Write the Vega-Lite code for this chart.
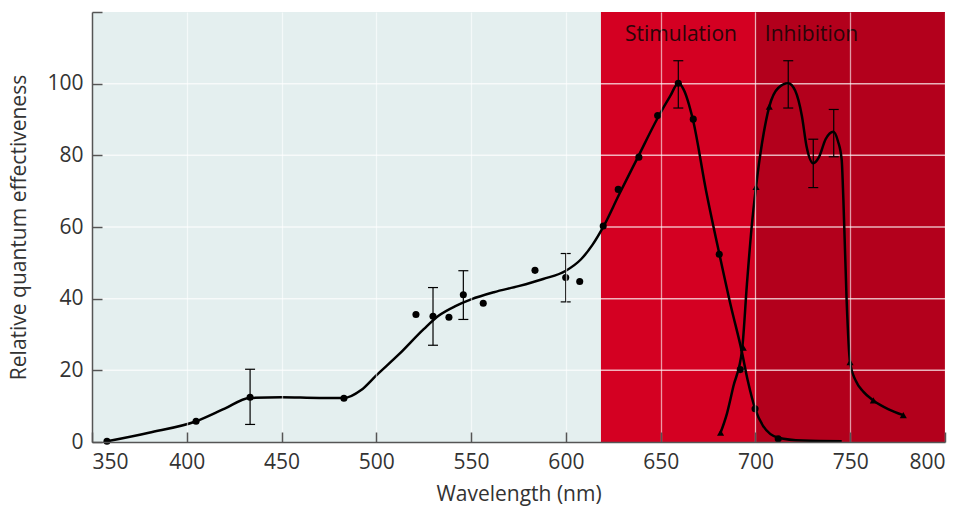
{
  "$schema": "https://vega.github.io/schema/vega-lite/v6.json",
  "width": 853,
  "height": 430,
  "autosize": "none",
  "padding": {"left": 92, "top": 12, "right": 19, "bottom": 64},
  "background": "white",
  "config": {
    "view": {"stroke": null},
    "font": "Open Sans",
    "axis": {
      "labelFont": "Open Sans",
      "labelFontSize": 21,
      "labelColor": "#333333",
      "titleFont": "Open Sans",
      "titleFontSize": 21,
      "titleFontWeight": "normal",
      "titleColor": "#333333",
      "domainColor": "#555555",
      "domainWidth": 1.5,
      "tickColor": "#555555",
      "tickWidth": 1.5
    }
  },
  "datasets": {
    "bands": [
      {"start": 350, "end": 618.5, "region": "visible", "effectiveness": 0, "top": 120},
      {"start": 618.5, "end": 700, "region": "red", "effectiveness": 0, "top": 120},
      {"start": 700, "end": 800, "region": "far-red", "effectiveness": 0, "top": 120}
    ],
    "levels": [
      {"effectiveness": 20},
      {"effectiveness": 40},
      {"effectiveness": 60},
      {"effectiveness": 80},
      {"effectiveness": 100}
    ],
    "curves": [
      {"series": "Stimulation", "wavelength": 358, "effectiveness": 0.2},
      {"series": "Stimulation", "wavelength": 380, "effectiveness": 2.6},
      {"series": "Stimulation", "wavelength": 405, "effectiveness": 5.8},
      {"series": "Stimulation", "wavelength": 420, "effectiveness": 9.3},
      {"series": "Stimulation", "wavelength": 433, "effectiveness": 12.3},
      {"series": "Stimulation", "wavelength": 450, "effectiveness": 12.5},
      {"series": "Stimulation", "wavelength": 470, "effectiveness": 12.3},
      {"series": "Stimulation", "wavelength": 483, "effectiveness": 12.3},
      {"series": "Stimulation", "wavelength": 492, "effectiveness": 14.5},
      {"series": "Stimulation", "wavelength": 500, "effectiveness": 18.6},
      {"series": "Stimulation", "wavelength": 512, "effectiveness": 24.5},
      {"series": "Stimulation", "wavelength": 525, "effectiveness": 31.5},
      {"series": "Stimulation", "wavelength": 533, "effectiveness": 35.3},
      {"series": "Stimulation", "wavelength": 542, "effectiveness": 38},
      {"series": "Stimulation", "wavelength": 550, "effectiveness": 39.8},
      {"series": "Stimulation", "wavelength": 562, "effectiveness": 41.8},
      {"series": "Stimulation", "wavelength": 575, "effectiveness": 43.5},
      {"series": "Stimulation", "wavelength": 588, "effectiveness": 45.5},
      {"series": "Stimulation", "wavelength": 600, "effectiveness": 47.8},
      {"series": "Stimulation", "wavelength": 608, "effectiveness": 51},
      {"series": "Stimulation", "wavelength": 614, "effectiveness": 55},
      {"series": "Stimulation", "wavelength": 620, "effectiveness": 60.3},
      {"series": "Stimulation", "wavelength": 628, "effectiveness": 69},
      {"series": "Stimulation", "wavelength": 638, "effectiveness": 79.5},
      {"series": "Stimulation", "wavelength": 648, "effectiveness": 90},
      {"series": "Stimulation", "wavelength": 655, "effectiveness": 96.5},
      {"series": "Stimulation", "wavelength": 659.3, "effectiveness": 100.1},
      {"series": "Stimulation", "wavelength": 662, "effectiveness": 98.5},
      {"series": "Stimulation", "wavelength": 667, "effectiveness": 90},
      {"series": "Stimulation", "wavelength": 674, "effectiveness": 70},
      {"series": "Stimulation", "wavelength": 681, "effectiveness": 52.4},
      {"series": "Stimulation", "wavelength": 687, "effectiveness": 38},
      {"series": "Stimulation", "wavelength": 692.7, "effectiveness": 25.5},
      {"series": "Stimulation", "wavelength": 696, "effectiveness": 17},
      {"series": "Stimulation", "wavelength": 699.8, "effectiveness": 9.3},
      {"series": "Stimulation", "wavelength": 704, "effectiveness": 4.5},
      {"series": "Stimulation", "wavelength": 712, "effectiveness": 1.2},
      {"series": "Stimulation", "wavelength": 725, "effectiveness": 0.4},
      {"series": "Stimulation", "wavelength": 745.5, "effectiveness": 0.2},
      {"series": "Inhibition", "wavelength": 681.6, "effectiveness": 2.6},
      {"series": "Inhibition", "wavelength": 685, "effectiveness": 8},
      {"series": "Inhibition", "wavelength": 688.3, "effectiveness": 15.4},
      {"series": "Inhibition", "wavelength": 693, "effectiveness": 26},
      {"series": "Inhibition", "wavelength": 695.5, "effectiveness": 44},
      {"series": "Inhibition", "wavelength": 698, "effectiveness": 60},
      {"series": "Inhibition", "wavelength": 700.3, "effectiveness": 71.2},
      {"series": "Inhibition", "wavelength": 703.5, "effectiveness": 83.5},
      {"series": "Inhibition", "wavelength": 707.3, "effectiveness": 93.6},
      {"series": "Inhibition", "wavelength": 712, "effectiveness": 98.8},
      {"series": "Inhibition", "wavelength": 717.3, "effectiveness": 100.1},
      {"series": "Inhibition", "wavelength": 721, "effectiveness": 98},
      {"series": "Inhibition", "wavelength": 724.5, "effectiveness": 91},
      {"series": "Inhibition", "wavelength": 727, "effectiveness": 82.4},
      {"series": "Inhibition", "wavelength": 730.5, "effectiveness": 77.8},
      {"series": "Inhibition", "wavelength": 733.5, "effectiveness": 79.5},
      {"series": "Inhibition", "wavelength": 737, "effectiveness": 84.5},
      {"series": "Inhibition", "wavelength": 741.1, "effectiveness": 86.6},
      {"series": "Inhibition", "wavelength": 743.5, "effectiveness": 84},
      {"series": "Inhibition", "wavelength": 745.5, "effectiveness": 78.7},
      {"series": "Inhibition", "wavelength": 746.4, "effectiveness": 67.5},
      {"series": "Inhibition", "wavelength": 748.1, "effectiveness": 39.6},
      {"series": "Inhibition", "wavelength": 749.9, "effectiveness": 22.3},
      {"series": "Inhibition", "wavelength": 753, "effectiveness": 17},
      {"series": "Inhibition", "wavelength": 757, "effectiveness": 14},
      {"series": "Inhibition", "wavelength": 762.2, "effectiveness": 11.6},
      {"series": "Inhibition", "wavelength": 770, "effectiveness": 9.2},
      {"series": "Inhibition", "wavelength": 778, "effectiveness": 7.5}
    ],
    "points": [
      {"series": "Stimulation", "wavelength": 357.9, "effectiveness": 0.2},
      {"series": "Stimulation", "wavelength": 404.9, "effectiveness": 5.8},
      {"series": "Stimulation", "wavelength": 433.4, "effectiveness": 12.5},
      {"series": "Stimulation", "wavelength": 482.9, "effectiveness": 12.2},
      {"series": "Stimulation", "wavelength": 520.9, "effectiveness": 35.6},
      {"series": "Stimulation", "wavelength": 529.9, "effectiveness": 35.1},
      {"series": "Stimulation", "wavelength": 538.3, "effectiveness": 34.8},
      {"series": "Stimulation", "wavelength": 545.9, "effectiveness": 41.1},
      {"series": "Stimulation", "wavelength": 556.4, "effectiveness": 38.7},
      {"series": "Stimulation", "wavelength": 583.7, "effectiveness": 47.9},
      {"series": "Stimulation", "wavelength": 599.9, "effectiveness": 45.9},
      {"series": "Stimulation", "wavelength": 607.3, "effectiveness": 44.8},
      {"series": "Stimulation", "wavelength": 619.7, "effectiveness": 60.3},
      {"series": "Stimulation", "wavelength": 627.6, "effectiveness": 70.5},
      {"series": "Stimulation", "wavelength": 638.5, "effectiveness": 79.5},
      {"series": "Stimulation", "wavelength": 648.4, "effectiveness": 91.1},
      {"series": "Stimulation", "wavelength": 659.3, "effectiveness": 100.1},
      {"series": "Stimulation", "wavelength": 667.2, "effectiveness": 90.1},
      {"series": "Stimulation", "wavelength": 680.9, "effectiveness": 52.4},
      {"series": "Stimulation", "wavelength": 692, "effectiveness": 20.2},
      {"series": "Stimulation", "wavelength": 699.8, "effectiveness": 9.3},
      {"series": "Stimulation", "wavelength": 712, "effectiveness": 0.9},
      {"series": "Inhibition", "wavelength": 681.6, "effectiveness": 2.6},
      {"series": "Inhibition", "wavelength": 693.6, "effectiveness": 26.3},
      {"series": "Inhibition", "wavelength": 700.3, "effectiveness": 71.2},
      {"series": "Inhibition", "wavelength": 707.3, "effectiveness": 93.6},
      {"series": "Inhibition", "wavelength": 749.9, "effectiveness": 22.3},
      {"series": "Inhibition", "wavelength": 762.2, "effectiveness": 11.6},
      {"series": "Inhibition", "wavelength": 778, "effectiveness": 7.5}
    ],
    "errors": [
      {"wavelength": 433.4, "effectiveness": 4.9, "high": 20.3},
      {"wavelength": 529.9, "effectiveness": 27, "high": 43.1},
      {"wavelength": 545.9, "effectiveness": 34.2, "high": 47.8},
      {"wavelength": 599.9, "effectiveness": 39.1, "high": 52.6},
      {"wavelength": 659.3, "effectiveness": 93.2, "high": 106.4},
      {"wavelength": 717.3, "effectiveness": 93.2, "high": 106.4},
      {"wavelength": 730.5, "effectiveness": 71, "high": 84.5},
      {"wavelength": 741.3, "effectiveness": 79.6, "high": 92.8}
    ],
    "labels": [
      {"text": "Stimulation", "wavelength": 660.7, "effectiveness": 113.6},
      {"text": "Inhibition", "wavelength": 729.6, "effectiveness": 113.6}
    ]
  },
  "layer": [
    {
      "data": {"name": "bands"},
      "mark": {"type": "rect"},
      "encoding": {
        "x": {
          "field": "start", "type": "quantitative", "title": "Wavelength (nm)",
          "scale": {"domain": [350, 800], "nice": false, "zero": false},
          "axis": {"zindex": 1, "grid": true, "gridColor": "#ffffff", "gridOpacity": 0.6, "gridWidth": 1.3, "tickSize": -10, "title": "Wavelength (nm)", "values": [350, 400, 450, 500, 550, 600, 650, 700, 750, 800], "labelPadding": 19, "titlePadding": 11}
        },
        "x2": {"field": "end"},
        "y": {
          "field": "effectiveness", "type": "quantitative", "title": "Relative quantum effectiveness",
          "scale": {"domain": [0, 120], "nice": false},
          "axis": {"zindex": 1, "grid": false, "tickSize": -10, "title": "Relative quantum effectiveness", "values": [0, 20, 40, 60, 80, 100, 120], "labelExpr": "datum.value == 120 ? '' : datum.label", "labelPadding": 19, "titlePadding": 17}
        },
        "y2": {"field": "top"},
        "color": {
          "field": "region", "type": "nominal", "legend": null,
          "scale": {"domain": ["visible", "red", "far-red"], "range": ["#e4efef", "#d40022", "#b3001c"]}
        }
      }
    },
    {
      "data": {"name": "levels"},
      "mark": {"type": "rule", "color": "#ffffff", "opacity": 0.7, "strokeWidth": 1.5},
      "encoding": {
        "y": {"field": "effectiveness", "type": "quantitative"}
      }
    },
    {
      "data": {"name": "curves"},
      "mark": {"type": "line", "interpolate": "monotone", "color": "#000000", "strokeWidth": 2.5},
      "encoding": {
        "x": {"field": "wavelength", "type": "quantitative"},
        "y": {"field": "effectiveness", "type": "quantitative"},
        "detail": {"field": "series"}
      }
    },
    {
      "data": {"name": "errors"},
      "mark": {"type": "rule", "color": "#000000", "strokeWidth": 1.2},
      "encoding": {
        "x": {"field": "wavelength", "type": "quantitative"},
        "y": {"field": "effectiveness", "type": "quantitative"},
        "y2": {"field": "high"}
      }
    },
    {
      "data": {"name": "errors"},
      "mark": {"type": "tick", "orient": "horizontal", "color": "#000000", "thickness": 1.2, "size": 10, "opacity": 1},
      "encoding": {
        "x": {"field": "wavelength", "type": "quantitative"},
        "y": {"field": "effectiveness", "type": "quantitative"}
      }
    },
    {
      "data": {"name": "errors"},
      "mark": {"type": "tick", "orient": "horizontal", "color": "#000000", "thickness": 1.2, "size": 10, "opacity": 1},
      "encoding": {
        "x": {"field": "wavelength", "type": "quantitative"},
        "y": {"field": "high", "type": "quantitative"}
      }
    },
    {
      "data": {"name": "points"},
      "mark": {"type": "point", "filled": true, "color": "#000000", "opacity": 1, "size": 50},
      "encoding": {
        "x": {"field": "wavelength", "type": "quantitative"},
        "y": {"field": "effectiveness", "type": "quantitative"},
        "shape": {"field": "series", "type": "nominal", "legend": null, "scale": {"domain": ["Stimulation", "Inhibition"], "range": ["circle", "triangle-up"]}}
      }
    },
    {
      "data": {"name": "labels"},
      "mark": {"type": "text", "font": "Open Sans", "fontSize": 21, "color": "#2a0508", "baseline": "middle", "align": "center"},
      "encoding": {
        "x": {"field": "wavelength", "type": "quantitative"},
        "y": {"field": "effectiveness", "type": "quantitative"},
        "text": {"field": "text"}
      }
    }
  ]
}
